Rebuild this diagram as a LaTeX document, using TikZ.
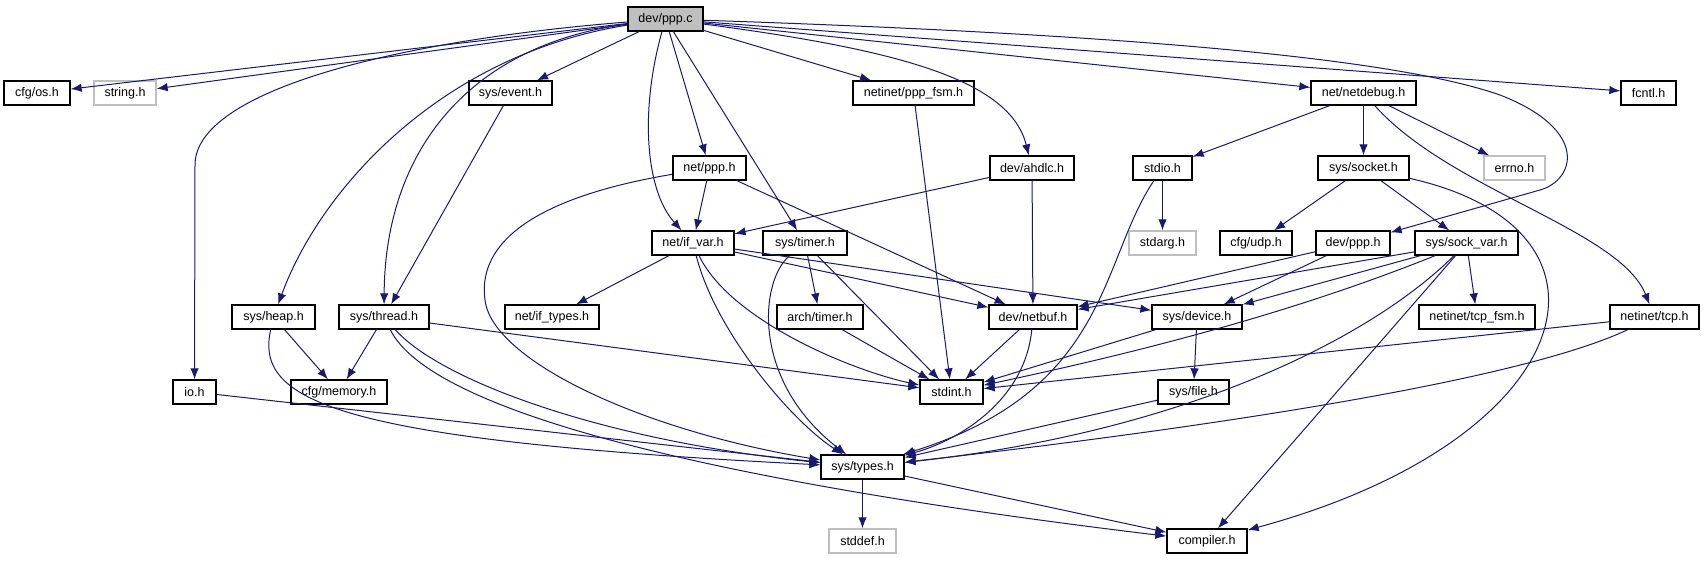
\documentclass[tikz,border=0pt]{standalone}
\usepackage{fontspec}
\setmainfont{Liberation Sans}
\usetikzlibrary{arrows.meta}
\definecolor{edgeblue}{HTML}{191970}
\definecolor{hdrgrey}{HTML}{BFBFBF}
\begin{document}
\begin{tikzpicture}[x=1pt,y=-1pt,font=\fontsize{12.5}{14}\selectfont,
  hdr/.style={draw=black,line width=1.3pt,minimum height=24pt,inner sep=0pt},
  ext/.style={hdr,draw=hdrgrey},
  inc/.style={draw=edgeblue,line width=1pt,-{Latex[length=11pt,width=8.5pt]}}]
\useasboundingbox (0,0) rectangle (1704,560);
% row 0
\node[hdr,fill=hdrgrey,minimum width=75pt](ppp) at (665.5,19){dev/ppp.c};
% row 1
\node[hdr,minimum width=66pt](os) at (37,93){cfg/os.h};
\node[ext,minimum width=62pt](string) at (125,93){string.h};
\node[hdr,minimum width=83pt](event) at (510.5,93){sys/event.h};
\node[hdr,minimum width=121pt](pppfsm) at (913.5,93){netinet/ppp\_fsm.h};
\node[hdr,minimum width=105pt](netdebug) at (1363.5,93){net/netdebug.h};
\node[hdr,minimum width=55pt](fcntl) at (1648.5,93){fcntl.h};
% row 2
\node[hdr,minimum width=73pt](netppp) at (709.5,168){net/ppp.h};
\node[hdr,minimum width=84pt](ahdlc) at (1032,168){dev/ahdlc.h};
\node[hdr,minimum width=59pt](stdio) at (1162.5,168){stdio.h};
\node[hdr,minimum width=91pt](socket) at (1363.5,168){sys/socket.h};
\node[ext,minimum width=61pt](errno) at (1514.5,168){errno.h};
% row 3
\node[hdr,minimum width=82pt](ifvar) at (693,243){net/if\_var.h};
\node[hdr,minimum width=84pt](systimer) at (805,243){sys/timer.h};
\node[ext,minimum width=67pt](stdarg) at (1162.5,243){stdarg.h};
\node[hdr,minimum width=72pt](udp) at (1256,243){cfg/udp.h};
\node[hdr,minimum width=74pt](devppph) at (1353,243){dev/ppp.h};
\node[hdr,minimum width=103pt](sockvar) at (1466.5,243){sys/sock\_var.h};
% row 4
\node[hdr,minimum width=83pt](heap) at (273.5,317){sys/heap.h};
\node[hdr,minimum width=90pt](thread) at (384,317){sys/thread.h};
\node[hdr,minimum width=94pt](iftypes) at (552,317){net/if\_types.h};
\node[hdr,minimum width=86pt](archtimer) at (820,317){arch/timer.h};
\node[hdr,minimum width=88pt](netbuf) at (1033,317){dev/netbuf.h};
\node[hdr,minimum width=90pt](device) at (1197,317){sys/device.h};
\node[hdr,minimum width=116pt](tcpfsm) at (1477,317){netinet/tcp\_fsm.h};
\node[hdr,minimum width=89pt](tcp) at (1654.5,317){netinet/tcp.h};
% row 5
\node[hdr,minimum width=43pt](io) at (194.5,392){io.h};
\node[hdr,minimum width=96pt](memory) at (339,392){cfg/memory.h};
\node[hdr,minimum width=63pt](stdint) at (951.5,392){stdint.h};
\node[hdr,minimum width=71pt](file) at (1193.5,392){sys/file.h};
% rows 6 and 7
\node[hdr,minimum width=83pt](types) at (862.5,467){sys/types.h};
\node[ext,minimum width=67pt](stddef) at (862.5,541){stddef.h};
\node[hdr,minimum width=80pt](compiler) at (1207,541){compiler.h};
% straight includes
\foreach \a/\b in {ppp/os,ppp/string,ppp/event,ppp/netppp,ppp/systimer,ppp/pppfsm,ppp/netdebug,ppp/fcntl,
  event/thread,netppp/ifvar,netppp/netbuf,ahdlc/ifvar,ahdlc/netbuf,pppfsm/stdint,
  netdebug/stdio,netdebug/socket,netdebug/errno,stdio/stdarg,socket/udp,socket/sockvar,
  devppph/netbuf,devppph/device,sockvar/netbuf,sockvar/device,sockvar/compiler,sockvar/tcpfsm,
  ifvar/iftypes,ifvar/netbuf,ifvar/device,systimer/archtimer,systimer/stdint,archtimer/stdint,
  netbuf/stdint,device/stdint,device/file,file/types,tcp/stdint,heap/memory,thread/memory,thread/stdint,
  io/types,types/stddef,types/compiler}{\draw[inc](\a)--(\b);}
% curved includes
\draw[inc](ppp) .. controls (400,40) and (195,90) .. (195,165) -- (io);
\draw[inc](ppp) .. controls (440,55) and (320,190) .. (heap);
\draw[inc](ppp) .. controls (470,45) and (385,150) .. (thread);
\draw[inc](ppp) .. controls (640,110) and (645,190) .. (ifvar);
\draw[inc](ppp) .. controls (900,50) and (1010,80) .. (ahdlc);
\draw[inc](ppp) .. controls (1150,35) and (1400,60) .. (1500,95) .. controls (1590,130) and (1575,180) .. (1540,190) -- (devppph);
\draw[inc](netppp) .. controls (520,200) and (478,250) .. (485,300) .. controls (492,360) and (640,430) .. (types);
\draw[inc](netdebug) .. controls (1450,190) and (1620,230) .. (tcp);
\draw[inc](stdio) .. controls (1100,260) and (1110,390) .. (types);
\draw[inc](socket) .. controls (1640,230) and (1580,440) .. (compiler);
\draw[inc](sockvar) .. controls (1300,310) and (1150,350) .. (stdint);
\draw[inc](sockvar) .. controls (1380,330) and (1200,430) .. (types);
\draw[inc](ifvar) .. controls (730,320) and (850,370) .. (stdint);
\draw[inc](ifvar) .. controls (715,330) and (790,420) .. (types);
\draw[inc](systimer) .. controls (760,280) and (750,380) .. (types);
\draw[inc](netbuf) .. controls (1025,400) and (960,440) .. (types);
\draw[inc](tcp) .. controls (1500,390) and (1100,440) .. (types);
\draw[inc](heap) .. controls (255,400) and (330,440) .. (types);
\draw[inc](thread) .. controls (440,380) and (600,440) .. (types);
\draw[inc](thread) .. controls (430,410) and (700,480) .. (compiler);
\end{tikzpicture}
\end{document}
